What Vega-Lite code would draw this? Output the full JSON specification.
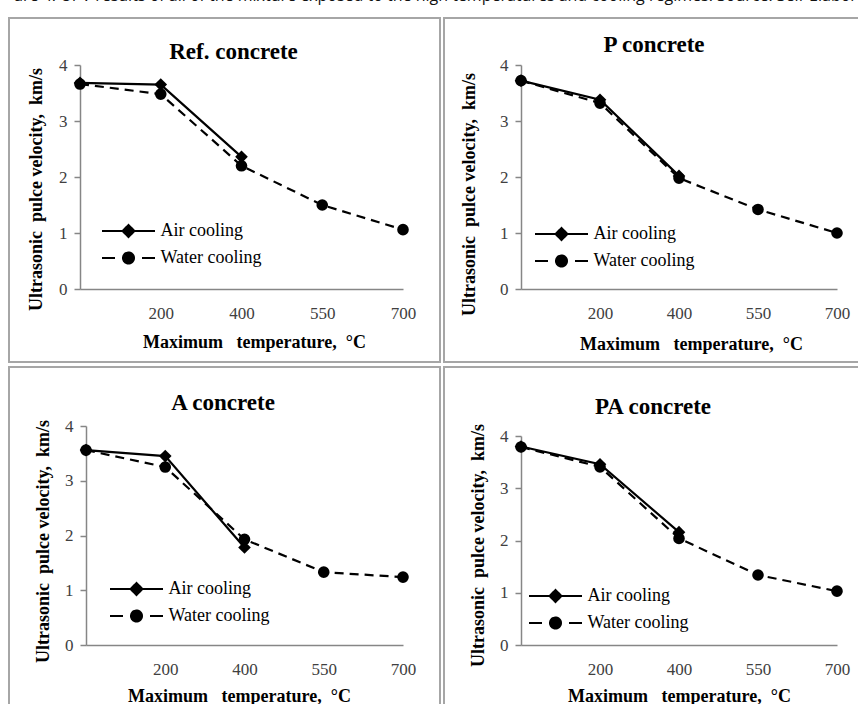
{
  "$schema": "https://vega.github.io/schema/vega-lite/v6.json",
  "padding": {"left": 8, "top": -12, "right": 0, "bottom": 0},
  "background": "white",
  "title": {"text": "ure 4. UPV results of all of the mixture exposed to the high temperatures and cooling regimes. Source: Self-Elabor", "font": "Open Sans", "fontSize": 16, "fontWeight": "normal", "color": "#111111", "anchor": "middle", "offset": 0, "baseline": "alphabetic"},
  "data": {"values": [
    {"mix": "Ref", "cooling": "Air cooling", "temp": "20", "upv": 3.68},
    {"mix": "Ref", "cooling": "Air cooling", "temp": "200", "upv": 3.65},
    {"mix": "Ref", "cooling": "Air cooling", "temp": "400", "upv": 2.36},
    {"mix": "Ref", "cooling": "Water cooling", "temp": "20", "upv": 3.66},
    {"mix": "Ref", "cooling": "Water cooling", "temp": "200", "upv": 3.48},
    {"mix": "Ref", "cooling": "Water cooling", "temp": "400", "upv": 2.2},
    {"mix": "Ref", "cooling": "Water cooling", "temp": "550", "upv": 1.5},
    {"mix": "Ref", "cooling": "Water cooling", "temp": "700", "upv": 1.06},
    {"mix": "P", "cooling": "Air cooling", "temp": "20", "upv": 3.72},
    {"mix": "P", "cooling": "Air cooling", "temp": "200", "upv": 3.38},
    {"mix": "P", "cooling": "Air cooling", "temp": "400", "upv": 2.02},
    {"mix": "P", "cooling": "Water cooling", "temp": "20", "upv": 3.72},
    {"mix": "P", "cooling": "Water cooling", "temp": "200", "upv": 3.32},
    {"mix": "P", "cooling": "Water cooling", "temp": "400", "upv": 1.98},
    {"mix": "P", "cooling": "Water cooling", "temp": "550", "upv": 1.42},
    {"mix": "P", "cooling": "Water cooling", "temp": "700", "upv": 1.0},
    {"mix": "A", "cooling": "Air cooling", "temp": "20", "upv": 3.56},
    {"mix": "A", "cooling": "Air cooling", "temp": "200", "upv": 3.45},
    {"mix": "A", "cooling": "Air cooling", "temp": "400", "upv": 1.78},
    {"mix": "A", "cooling": "Water cooling", "temp": "20", "upv": 3.56},
    {"mix": "A", "cooling": "Water cooling", "temp": "200", "upv": 3.25},
    {"mix": "A", "cooling": "Water cooling", "temp": "400", "upv": 1.93},
    {"mix": "A", "cooling": "Water cooling", "temp": "550", "upv": 1.33},
    {"mix": "A", "cooling": "Water cooling", "temp": "700", "upv": 1.24},
    {"mix": "PA", "cooling": "Air cooling", "temp": "20", "upv": 3.8},
    {"mix": "PA", "cooling": "Air cooling", "temp": "200", "upv": 3.46},
    {"mix": "PA", "cooling": "Air cooling", "temp": "400", "upv": 2.16},
    {"mix": "PA", "cooling": "Water cooling", "temp": "20", "upv": 3.79},
    {"mix": "PA", "cooling": "Water cooling", "temp": "200", "upv": 3.41},
    {"mix": "PA", "cooling": "Water cooling", "temp": "400", "upv": 2.04},
    {"mix": "PA", "cooling": "Water cooling", "temp": "550", "upv": 1.34},
    {"mix": "PA", "cooling": "Water cooling", "temp": "700", "upv": 1.03}
  ]},
  "spacing": 3,
  "resolve": {"scale": {"color": "independent"}, "legend": {"color": "independent"}},
  "vconcat": [
    {
      "spacing": 2,
      "resolve": {"scale": {"color": "independent"}, "legend": {"color": "independent"}},
      "hconcat": [
        {
          "width": 431, "height": 344,
          "title": {"text": "Ref. concrete", "offset": -46, "dx": 9},
          "transform": [{"filter": "datum.mix === 'Ref'"}],
          "encoding": {
            "x": {"field": "temp", "type": "ordinal", "sort": ["20", "200", "400", "550", "700"], "scale": {"type": "point", "padding": 0, "range": [71, 394]},
                  "axis": {"title": "Maximum\u00a0\u00a0\u00a0temperature,\u00a0\u00a0\u00b0C", "offset": -73, "titleX": 245, "titleY": 58, "labelExpr": "datum.label == '20' ? '' : datum.label"}},
            "y": {"field": "upv", "type": "quantitative", "scale": {"domain": [0, 4], "range": [271, 47], "nice": false},
                  "axis": {"title": "Ultrasonic\u00a0\u00a0pulce velocity,\u00a0\u00a0km/s", "offset": -71, "titleX": -44, "titleY": 171, "values": [0, 1, 2, 3, 4], "format": "d"}},
            "color": {"field": "cooling", "type": "nominal", "scale": {"domain": ["Air cooling", "Water cooling"], "range": ["black", "black"]},
                      "legend": {"orient": "none", "legendX": 108.5, "legendY": 202, "title": null, "padding": 0, "symbolSize": 400, "labelOffset": 21, "rowPadding": 6, "labelFont": "Liberation Serif", "labelFontSize": 18, "labelColor": "black", "symbolStrokeWidth": 2,
                                 "encode": {"symbols": {"update": {"shape": {"signal": "datum.value === 'Air cooling' ? 'M-2.65,0H2.65M0,-0.6L0.6,0L0,0.6L-0.6,0Z' : 'M-2.65,0H-1.35M1.35,0H2.65M-0.55,0A0.55,0.55,0,1,0,0.55,0A0.55,0.55,0,1,0,-0.55,0Z'"}, "stroke": {"value": "black"}, "fill": {"value": "black"}, "strokeWidth": {"value": 2}, "strokeDash": {"value": [1, 0]}, "opacity": {"value": 1}}}}}}
          },
          "layer": [
            {"transform": [{"filter": "datum.cooling === 'Water cooling'"}], "mark": {"type": "line", "strokeWidth": 2.2, "strokeDash": [9, 6]}},
            {"transform": [{"filter": "datum.cooling === 'Air cooling'"}], "mark": {"type": "line", "strokeWidth": 2.2}},
            {"transform": [{"filter": "datum.cooling === 'Water cooling'"}], "mark": {"type": "point", "shape": "circle", "filled": true, "opacity": 1, "size": 135}},
            {"transform": [{"filter": "datum.cooling === 'Air cooling'"}], "mark": {"type": "point", "shape": "diamond", "filled": true, "opacity": 1, "size": 160}}
          ]
        },
        {
          "width": 417, "height": 344,
          "title": {"text": "P concrete", "offset": -39, "dx": 1.5},
          "transform": [{"filter": "datum.mix === 'P'"}],
          "encoding": {
            "x": {"field": "temp", "type": "ordinal", "sort": ["20", "200", "400", "550", "700"], "scale": {"type": "point", "padding": 0, "range": [77, 393]},
                  "axis": {"title": "Maximum\u00a0\u00a0\u00a0temperature,\u00a0\u00a0\u00b0C", "offset": -73, "titleX": 247, "titleY": 60, "labelExpr": "datum.label == '20' ? '' : datum.label"}},
            "y": {"field": "upv", "type": "quantitative", "scale": {"domain": [0, 4], "range": [271, 47], "nice": false},
                  "axis": {"title": "Ultrasonic\u00a0\u00a0pulce velocity,\u00a0\u00a0km/s", "offset": -77, "titleX": -52, "titleY": 176, "values": [0, 1, 2, 3, 4], "format": "d"}},
            "color": {"field": "cooling", "type": "nominal", "scale": {"domain": ["Air cooling", "Water cooling"], "range": ["black", "black"]},
                      "legend": {"orient": "none", "legendX": 106.5, "legendY": 205, "title": null, "padding": 0, "symbolSize": 400, "labelOffset": 21, "rowPadding": 6, "labelFont": "Liberation Serif", "labelFontSize": 18, "labelColor": "black", "symbolStrokeWidth": 2,
                                 "encode": {"symbols": {"update": {"shape": {"signal": "datum.value === 'Air cooling' ? 'M-2.65,0H2.65M0,-0.6L0.6,0L0,0.6L-0.6,0Z' : 'M-2.65,0H-1.35M1.35,0H2.65M-0.55,0A0.55,0.55,0,1,0,0.55,0A0.55,0.55,0,1,0,-0.55,0Z'"}, "stroke": {"value": "black"}, "fill": {"value": "black"}, "strokeWidth": {"value": 2}, "strokeDash": {"value": [1, 0]}, "opacity": {"value": 1}}}}}}
          },
          "layer": [
            {"transform": [{"filter": "datum.cooling === 'Water cooling'"}], "mark": {"type": "line", "strokeWidth": 2.2, "strokeDash": [9, 6]}},
            {"transform": [{"filter": "datum.cooling === 'Air cooling'"}], "mark": {"type": "line", "strokeWidth": 2.2}},
            {"transform": [{"filter": "datum.cooling === 'Water cooling'"}], "mark": {"type": "point", "shape": "circle", "filled": true, "opacity": 1, "size": 135}},
            {"transform": [{"filter": "datum.cooling === 'Air cooling'"}], "mark": {"type": "point", "shape": "diamond", "filled": true, "opacity": 1, "size": 160}}
          ]
        }
      ]
    },
    {
      "spacing": 2,
      "resolve": {"scale": {"color": "independent"}, "legend": {"color": "independent"}},
      "hconcat": [
        {
          "width": 431, "height": 341,
          "title": {"text": "A concrete", "offset": -48, "dx": -1.5},
          "transform": [{"filter": "datum.mix === 'A'"}],
          "encoding": {
            "x": {"field": "temp", "type": "ordinal", "sort": ["20", "200", "400", "550", "700"], "scale": {"type": "point", "padding": 0, "range": [77, 394]},
                  "axis": {"title": "Maximum\u00a0\u00a0\u00a0temperature,\u00a0\u00a0\u00b0C", "offset": -63, "titleX": 230, "titleY": 56, "labelExpr": "datum.label == '20' ? '' : datum.label"}},
            "y": {"field": "upv", "type": "quantitative", "scale": {"domain": [0, 4], "range": [278, 59], "nice": false},
                  "axis": {"title": "Ultrasonic\u00a0\u00a0pulce velocity,\u00a0\u00a0km/s", "offset": -77, "titleX": -43, "titleY": 174, "values": [0, 1, 2, 3, 4], "format": "d"}},
            "color": {"field": "cooling", "type": "nominal", "scale": {"domain": ["Air cooling", "Water cooling"], "range": ["black", "black"]},
                      "legend": {"orient": "none", "legendX": 116.5, "legendY": 211, "title": null, "padding": 0, "symbolSize": 400, "labelOffset": 21, "rowPadding": 6, "labelFont": "Liberation Serif", "labelFontSize": 18, "labelColor": "black", "symbolStrokeWidth": 2,
                                 "encode": {"symbols": {"update": {"shape": {"signal": "datum.value === 'Air cooling' ? 'M-2.65,0H2.65M0,-0.6L0.6,0L0,0.6L-0.6,0Z' : 'M-2.65,0H-1.35M1.35,0H2.65M-0.55,0A0.55,0.55,0,1,0,0.55,0A0.55,0.55,0,1,0,-0.55,0Z'"}, "stroke": {"value": "black"}, "fill": {"value": "black"}, "strokeWidth": {"value": 2}, "strokeDash": {"value": [1, 0]}, "opacity": {"value": 1}}}}}}
          },
          "layer": [
            {"transform": [{"filter": "datum.cooling === 'Water cooling'"}], "mark": {"type": "line", "strokeWidth": 2.2, "strokeDash": [9, 6]}},
            {"transform": [{"filter": "datum.cooling === 'Air cooling'"}], "mark": {"type": "line", "strokeWidth": 2.2}},
            {"transform": [{"filter": "datum.cooling === 'Water cooling'"}], "mark": {"type": "point", "shape": "circle", "filled": true, "opacity": 1, "size": 135}},
            {"transform": [{"filter": "datum.cooling === 'Air cooling'"}], "mark": {"type": "point", "shape": "diamond", "filled": true, "opacity": 1, "size": 160}}
          ]
        },
        {
          "width": 417, "height": 341,
          "title": {"text": "PA concrete", "offset": -52, "dx": 0.5},
          "transform": [{"filter": "datum.mix === 'PA'"}],
          "encoding": {
            "x": {"field": "temp", "type": "ordinal", "sort": ["20", "200", "400", "550", "700"], "scale": {"type": "point", "padding": 0, "range": [77, 393]},
                  "axis": {"title": "Maximum\u00a0\u00a0\u00a0temperature,\u00a0\u00a0\u00b0C", "offset": -63, "titleX": 235, "titleY": 56, "labelExpr": "datum.label == '20' ? '' : datum.label"}},
            "y": {"field": "upv", "type": "quantitative", "scale": {"domain": [0, 4], "range": [278, 69], "nice": false},
                  "axis": {"title": "Ultrasonic\u00a0\u00a0pulce velocity,\u00a0\u00a0km/s", "offset": -77, "titleX": -43, "titleY": 178, "values": [0, 1, 2, 3, 4], "format": "d"}},
            "color": {"field": "cooling", "type": "nominal", "scale": {"domain": ["Air cooling", "Water cooling"], "range": ["black", "black"]},
                      "legend": {"orient": "none", "legendX": 100.5, "legendY": 218, "title": null, "padding": 0, "symbolSize": 400, "labelOffset": 21, "rowPadding": 6, "labelFont": "Liberation Serif", "labelFontSize": 18, "labelColor": "black", "symbolStrokeWidth": 2,
                                 "encode": {"symbols": {"update": {"shape": {"signal": "datum.value === 'Air cooling' ? 'M-2.65,0H2.65M0,-0.6L0.6,0L0,0.6L-0.6,0Z' : 'M-2.65,0H-1.35M1.35,0H2.65M-0.55,0A0.55,0.55,0,1,0,0.55,0A0.55,0.55,0,1,0,-0.55,0Z'"}, "stroke": {"value": "black"}, "fill": {"value": "black"}, "strokeWidth": {"value": 2}, "strokeDash": {"value": [1, 0]}, "opacity": {"value": 1}}}}}}
          },
          "layer": [
            {"transform": [{"filter": "datum.cooling === 'Water cooling'"}], "mark": {"type": "line", "strokeWidth": 2.2, "strokeDash": [9, 6]}},
            {"transform": [{"filter": "datum.cooling === 'Air cooling'"}], "mark": {"type": "line", "strokeWidth": 2.2}},
            {"transform": [{"filter": "datum.cooling === 'Water cooling'"}], "mark": {"type": "point", "shape": "circle", "filled": true, "opacity": 1, "size": 135}},
            {"transform": [{"filter": "datum.cooling === 'Air cooling'"}], "mark": {"type": "point", "shape": "diamond", "filled": true, "opacity": 1, "size": 160}}
          ]
        }
      ]
    }
  ],
  "config": {
    "view": {"stroke": "#a6a6a6", "strokeWidth": 2},
    "font": "Liberation Serif",
    "title": {"font": "Liberation Serif", "fontSize": 23, "fontWeight": "bold", "color": "black", "baseline": "alphabetic", "anchor": "middle"},
    "axis": {"labelFont": "Liberation Serif", "labelFontSize": 17, "labelColor": "#404040", "titleFont": "Liberation Serif", "titleFontSize": 18, "titleFontWeight": "bold", "titleColor": "black", "domainColor": "#868686", "tickColor": "#868686", "domainWidth": 1.5, "grid": false, "titleAlign": "center"},
    "axisX": {"ticks": false, "tickSize": 0, "labelPadding": 24, "labelBaseline": "middle", "labelAngle": 0, "titleBaseline": "alphabetic"},
    "axisY": {"tickSize": 6, "tickWidth": 1.5, "labelPadding": 7, "titleBaseline": "middle", "titleAngle": 270}
  }
}
